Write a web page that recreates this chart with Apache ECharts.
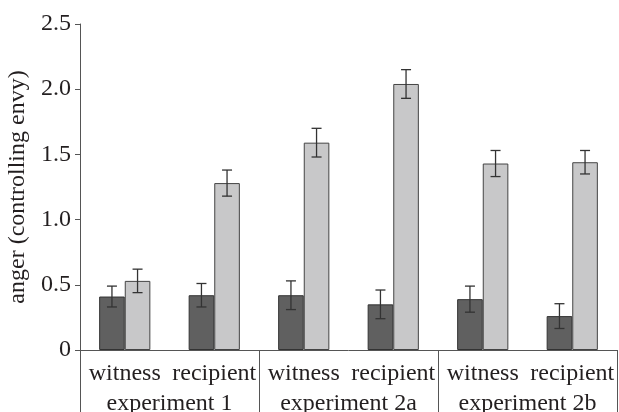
<!DOCTYPE html>
<html><head><meta charset="utf-8">
<script src="https://cdn.jsdelivr.net/npm/echarts@6/dist/echarts.min.js"></script>
<style>html,body{margin:0;padding:0;background:#fff}#c{width:619px;height:412px}</style>
</head><body><div id="c"></div>
<script>
var roles = ['witness','recipient','witness','recipient','witness','recipient'];
var experiments = ['experiment 1','experiment 2a','experiment 2b'];
var darkValues = [0.41, 0.42, 0.42, 0.35, 0.39, 0.26];
var darkErrors = [0.08, 0.09, 0.11, 0.11, 0.10, 0.095];
var lightValues = [0.53, 1.28, 1.59, 2.04, 1.43, 1.44];
var lightErrors = [0.09, 0.10, 0.11, 0.11, 0.10, 0.09];
var yTicks = ['0','0.5','1.0','1.5','2.0','2.5'];

var FONT = 'Liberation Serif';
var TXT = '#231f20';
var BAR_FRAC = 0.286;

function errData(vals, errs){
  return vals.map(function(v,i){ return [i, v - errs[i], v + errs[i]]; });
}
function errRender(sign){
  return function(params, api){
    var i = api.value(0);
    var bw = api.size([1,0])[0];
    var c = api.coord([i, api.value(1)]);
    var x = c[0] + sign * bw * BAR_FRAC / 2;
    var yl = c[1];
    var yh = api.coord([i, api.value(2)])[1];
    var cap = 5;
    var st = {stroke:'#333', lineWidth:1.3};
    return {type:'group', children:[
      {type:'line', shape:{x1:x,y1:yl,x2:x,y2:yh}, style:st},
      {type:'line', shape:{x1:x-cap,y1:yh,x2:x+cap,y2:yh}, style:st},
      {type:'line', shape:{x1:x-cap,y1:yl,x2:x+cap,y2:yl}, style:st}
    ]};
  };
}

var chart = echarts.init(document.getElementById('c'), null, {renderer:'canvas'});
chart.setOption({
  animation:false,
  grid:{left:80, right:2, top:24, bottom:62, containLabel:false, outerBoundsMode:'none'},
  xAxis:[{
    type:'category', data:roles, position:'bottom',
    axisLine:{show:true, lineStyle:{color:'#555', width:1}},
    axisTick:{show:false},
    axisLabel:{color:TXT, fontFamily:FONT, fontSize:24, margin:12, interval:0}
  },{
    type:'category', data:experiments, position:'bottom',
    axisLine:{show:false},
    axisTick:{show:true, length:62, interval:0, lineStyle:{color:'#555', width:1}},
    axisLabel:{color:TXT, fontFamily:FONT, fontSize:24, margin:42, interval:0}
  }],
  yAxis:{
    type:'value', min:0, max:2.5, interval:0.5,
    name:'anger (controlling envy)', nameLocation:'middle', nameGap:46,
    nameTextStyle:{color:TXT, fontFamily:FONT, fontSize:24},
    axisLine:{show:true, lineStyle:{color:'#555', width:1}},
    axisTick:{show:true, length:5, lineStyle:{color:'#555'}},
    splitLine:{show:false},
    axisLabel:{color:TXT, fontFamily:FONT, fontSize:24, margin:9,
      formatter:function(v){ return yTicks[Math.round(v/0.5)]; }}
  },
  series:[{
    type:'bar', data:darkValues, barWidth:(BAR_FRAC*100)+'%', barGap:'0%',
    itemStyle:{color:'#606060', borderColor:'#333', borderWidth:1}
  },{
    type:'bar', data:lightValues, barWidth:(BAR_FRAC*100)+'%', barGap:'0%',
    itemStyle:{color:'#c8c8c9', borderColor:'#444', borderWidth:1}
  },{
    type:'custom', data:errData(darkValues, darkErrors), renderItem:errRender(-1), z:5
  },{
    type:'custom', data:errData(lightValues, lightErrors), renderItem:errRender(1), z:5
  }]
});
</script></body></html>
